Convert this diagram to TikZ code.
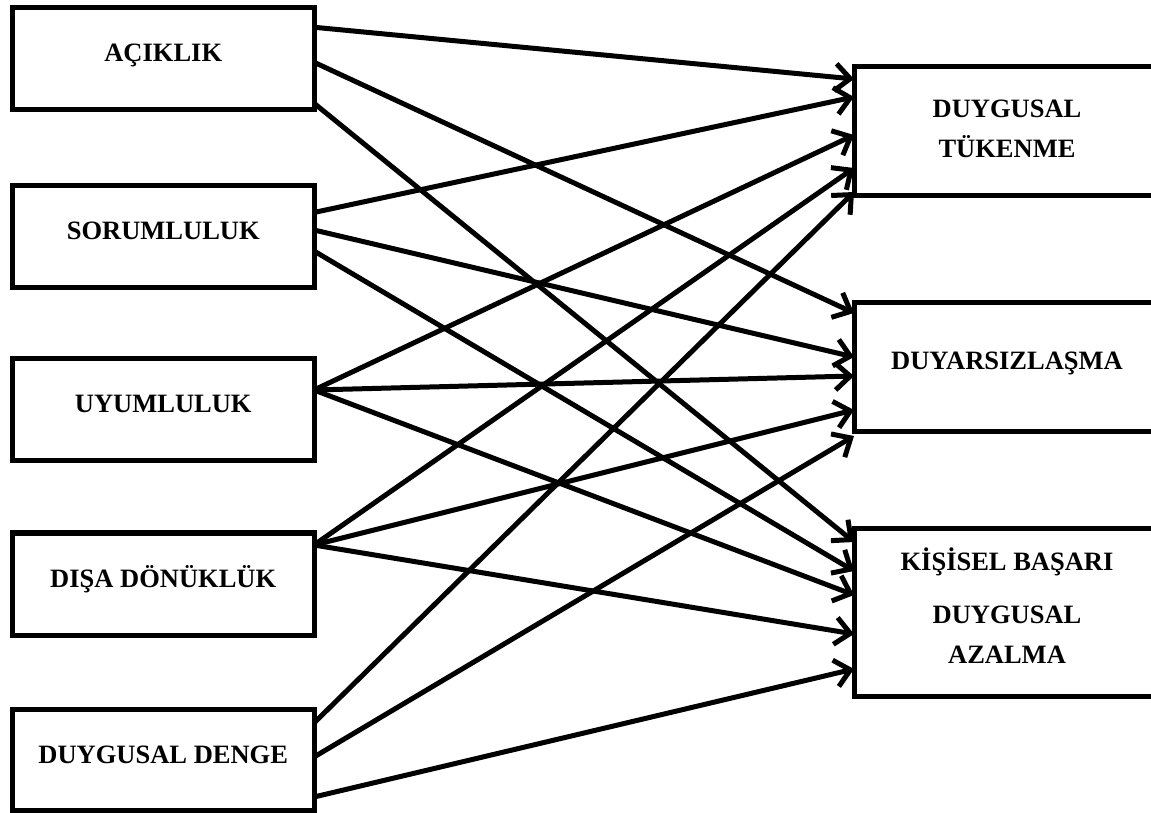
\documentclass[tikz,border=0pt]{standalone}
\usepackage{fontspec}
\setmainfont{Liberation Serif}
\usetikzlibrary{arrows.meta}

\begin{document}
\begin{tikzpicture}[
  x=1pt, y=1pt,
  kutu/.style={draw, line width=5pt, outer sep=0pt, inner sep=0pt},
  solkutu/.style={kutu, minimum width=301.5pt, minimum height=102pt},
  sagkutu/.style={kutu, minimum width=306pt, minimum height=129pt},
  yazi/.style={font=\fontsize{26.5}{40}\selectfont\bfseries, align=center, inner sep=0pt},
  ok/.style={-{Straight Barb[length=15pt, width=27pt]}, line width=5pt}
]
\clip (0,0) rectangle (1151,812);
% kisilik ozellikleri
\node[solkutu] (acik) at (163.25,753.75) {};
\node[solkutu] (sorum) at (163.25,575.5) {};
\node[solkutu] (uyum) at (163.25,402) {};
\node[solkutu] (disa) at (163.25,228) {};
\node[solkutu, minimum height=101pt] (denge) at (163.25,52) {};
\node[yazi, anchor=base] (acik-y) at ([yshift=-3.5pt]acik.center) {AÇIKLIK};
\node[yazi, anchor=base] (sorum-y) at ([yshift=-3pt]sorum.center) {SORUMLULUK};
\node[yazi, anchor=base] (uyum-y) at ([yshift=-3pt]uyum.center) {UYUMLULUK};
\node[yazi, anchor=base] (disa-y) at ([yshift=-3.3pt]disa.center) {DIŞA DÖNÜKLÜK};
\node[yazi, anchor=base] (denge-y) at ([yshift=-3.3pt]denge.center) {DUYGUSAL DENGE};
% tukenmislik boyutlari
\node[sagkutu] (tuken) at (1007,680.5) {};
\node[sagkutu] (duyars) at (1007,444.5) {};
\node[sagkutu, minimum height=167pt] (basari) at (1007,199.5) {};
\node[yazi] (tuken-y) at ([yshift=3pt]tuken.center) {DUYGUSAL\\TÜKENME};
\node[yazi, anchor=base] (duyars-y) at ([yshift=-2.5pt]duyars.center) {DUYARSIZLAŞMA};
\node[yazi] (basari-y) at ([yshift=7pt]basari.center) {KİŞİSEL BAŞARI\\[13pt]DUYGUSAL\\AZALMA};
% oklar
\draw[ok] ([yshift=31pt]acik.east) -- ([yshift=52.5pt]tuken.west);
\draw[ok] ([yshift=-4pt]acik.east) -- ([yshift=54.5pt]duyars.west);
\draw[ok] ([yshift=-45pt]acik.east) -- ([yshift=70.5pt]basari.west);
\draw[ok] ([yshift=24pt]sorum.east) -- ([yshift=34.5pt]tuken.west);
\draw[ok] ([yshift=6.5pt]sorum.east) -- ([yshift=10.5pt]duyars.west);
\draw[ok] ([yshift=-14.5pt]sorum.east) -- ([yshift=41.5pt]basari.west);
\draw[ok] ([yshift=20pt]uyum.east) -- ([yshift=-3.5pt]tuken.west);
\draw[ok] ([yshift=20pt]uyum.east) -- ([yshift=-8.5pt]duyars.west);
\draw[ok] ([yshift=20pt]uyum.east) -- ([yshift=17.5pt]basari.west);
\draw[ok] ([yshift=39pt]disa.east) -- ([yshift=-36.5pt]tuken.west);
\draw[ok] ([yshift=39pt]disa.east) -- ([yshift=-42.5pt]duyars.west);
\draw[ok] ([yshift=39pt]disa.east) -- ([yshift=-21.5pt]basari.west);
\draw[ok] ([yshift=37pt]denge.east) -- ([yshift=-60.5pt]tuken.west);
\draw[ok] ([yshift=3pt]denge.east) -- ([yshift=-68.5pt]duyars.west);
\draw[ok] ([yshift=-37pt]denge.east) -- ([yshift=-56.5pt]basari.west);
\end{tikzpicture}
\end{document}
